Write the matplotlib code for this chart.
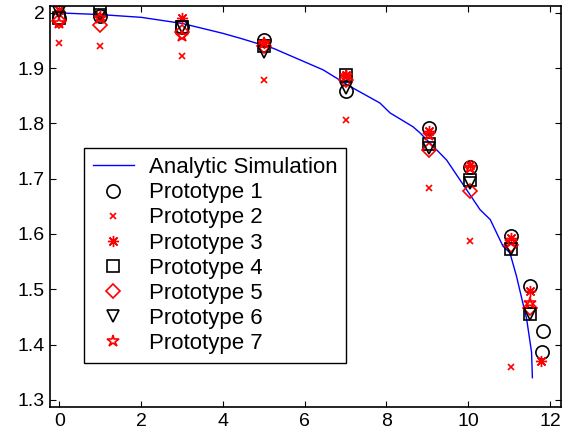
import matplotlib
matplotlib.use("Agg")
import matplotlib.pyplot as plt

plt.rcParams['font.family'] = ['Liberation Sans', 'DejaVu Sans']

# Analytic simulation curve
sim_x = [0, 1, 2, 3, 4, 4.43, 5.23, 6.45, 7.11, 7.84, 8.09, 8.65, 8.82, 9.47, 10.29,
         10.54, 10.85, 11.02, 11.18, 11.43, 11.55, 11.57]
sim_y = [2.0, 1.997, 1.992, 1.981, 1.963, 1.954, 1.936, 1.897, 1.867, 1.837, 1.819,
         1.794, 1.783, 1.734, 1.644, 1.626, 1.578, 1.566, 1.524, 1.446, 1.386, 1.340]

grp_x = [0, 1, 3, 5, 7, 9.05, 10.05, 11.05, 11.5]

p1_x = grp_x + [11.82, 11.8]
p1_y = [1.99, 1.995, 1.975, 1.951, 1.858, 1.792, 1.722, 1.596, 1.506, 1.425, 1.386]
p2_x = grp_x[:8]
p2_y = [1.946, 1.94, 1.922, 1.879, 1.807, 1.683, 1.587, 1.36]
p3_x = grp_x + [11.78]
p3_y = [2.005, 1.995, 1.99, 1.945, 1.888, 1.786, 1.725, 1.593, 1.497, 1.37]
p4_x = grp_x
p4_y = [1.99, 2.005, 1.975, 1.94, 1.888, 1.762, 1.698, 1.572, 1.455]
p5_x = grp_x
p5_y = [1.985, 1.978, 1.965, 1.94, 1.879, 1.752, 1.677, 1.58, 1.467]
p6_x = grp_x
p6_y = [2.002, 1.996, 1.975, 1.93, 1.864, 1.756, 1.692, 1.572, 1.455]
p7_x = grp_x
p7_y = [1.981, 1.99, 1.958, 1.945, 1.885, 1.78, 1.72, 1.585, 1.476]

labels = ['Analytic Simulation'] + ['Prototype %d' % i for i in range(1, 8)]

fig = plt.figure(figsize=(5.72, 4.38), dpi=100)
ax = fig.add_axes([50/572, 31/438, 511/572, 401/438])

ax.plot(sim_x, sim_y, color='#0000ff', lw=1.0, label=labels[0])
mk = dict(ls='none', mfc='none', mew=1.2)
ax.plot(p1_x, p1_y, marker='o', ms=9.5, mec='k', label=labels[1], **mk)
ax.plot(p2_x, p2_y, marker='x', ms=4.5, mec='r', label=labels[2], **mk)
ax.plot(p3_x, p3_y, marker=(8, 2, 0), ms=8, mec='r', label=labels[3],
        ls='none', mfc='none', mew=1.0)
ax.plot(p4_x, p4_y, marker='s', ms=8, mec='k', label=labels[4], **mk)
ax.plot(p5_x, p5_y, marker='D', ms=7, mec='r', label=labels[5], **mk)
ax.plot(p6_x, p6_y, marker='v', ms=8.5, mec='k', label=labels[6], **mk)
ax.plot(p7_x, p7_y, marker='*', ms=9, mec='r', label=labels[7], **mk)

ax.set_xlim(-0.23, 12.27)
ax.set_ylim(1.287, 2.0125)
ax.set_xticks([0, 2, 4, 6, 8, 10, 12])
ax.set_yticks([1.3, 1.4, 1.5, 1.6, 1.7, 1.8, 1.9, 2.0])
ax.set_yticklabels(['1.3', '1.4', '1.5', '1.6', '1.7', '1.8', '1.9', '2'])
ax.tick_params(direction='in', top=True, right=True, length=4, width=0.8,
               labelsize=14, pad=4)
for s in ax.spines.values():
    s.set_linewidth(1.2)

leg = ax.legend(loc='lower left', bbox_to_anchor=(0.066, 0.11), fontsize=16,
                frameon=True, fancybox=False, edgecolor='k', framealpha=1,
                borderpad=0.4, labelspacing=0.185, handlelength=1.85,
                handletextpad=0.68, borderaxespad=0)
leg.get_frame().set_linewidth(1.0)

fig.savefig('out.png', dpi=100)
